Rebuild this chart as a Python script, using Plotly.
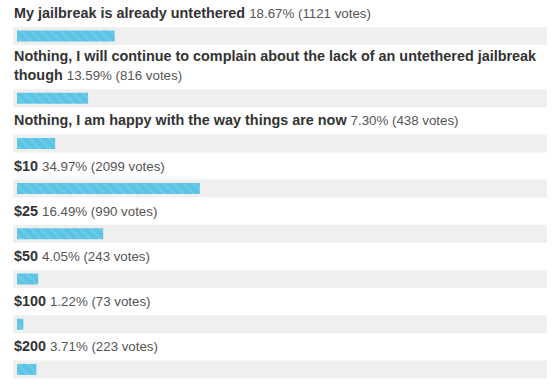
import plotly.graph_objects as go

labels = [
    "My jailbreak is already untethered",
    "Nothing, I will continue to complain about the lack of an untethered jailbreak<br>though",
    "Nothing, I am happy with the way things are now",
    "$10",
    "$25",
    "$50",
    "$100",
    "$200",
]
percents = [18.67, 13.59, 7.30, 34.97, 16.49, 4.05, 1.22, 3.71]
votes = [1121, 816, 438, 2099, 990, 243, 73, 223]

W, H = 560, 391
px_per_pct = 5.23
x0 = -17 / px_per_pct
x1 = x0 + W / px_per_pct

# layout of rows (pixel units on y axis)
first_center = 36
row_step = 45.2
extra_line = 17
centers = []
c = first_center
for i, lab in enumerate(labels):
    if i > 0:
        c += row_step + extra_line * lab.count("<br>")
    centers.append(c)

track_left = (13 - 17) / px_per_pct
track_right = (547 - 17) / px_per_pct

fig = go.Figure()
fig.add_trace(go.Bar(
    y=centers, x=[track_right - track_left] * len(labels), base=track_left,
    orientation="h", width=18, marker=dict(color="#efefef", line=dict(width=0)),
    hoverinfo="skip", showlegend=False,
))
fig.add_trace(go.Bar(
    y=centers, x=percents, base=0, orientation="h", width=11,
    marker=dict(color="#5bc3e4", line=dict(width=0),
                pattern=dict(shape="\\", fgcolor="#7fd3ee", size=7, solidity=0.35)),
    showlegend=False,
))

for lab, p, v, cy in zip(labels, percents, votes, centers):
    txt = (f"<b>{lab}</b> <span style='color:#555555;font-size:13.3px'>"
           f"{p:.2f}% ({v} votes)</span>")
    fig.add_annotation(
        x=track_left, y=cy - 13, xref="x", yref="y", text=txt, showarrow=False,
        xanchor="left", yanchor="bottom", align="left", xshift=-1,
        font=dict(family="Liberation Sans, Arial", size=14.4, color="#333333"),
    )

fig.update_layout(
    width=W, height=H, margin=dict(l=0, r=0, t=0, b=0),
    paper_bgcolor="white", plot_bgcolor="white", barmode="overlay",
    xaxis=dict(range=[x0, x1], visible=False, fixedrange=True),
    yaxis=dict(range=[H, 0], visible=False, fixedrange=True),
)
fig.write_html("out.html")
